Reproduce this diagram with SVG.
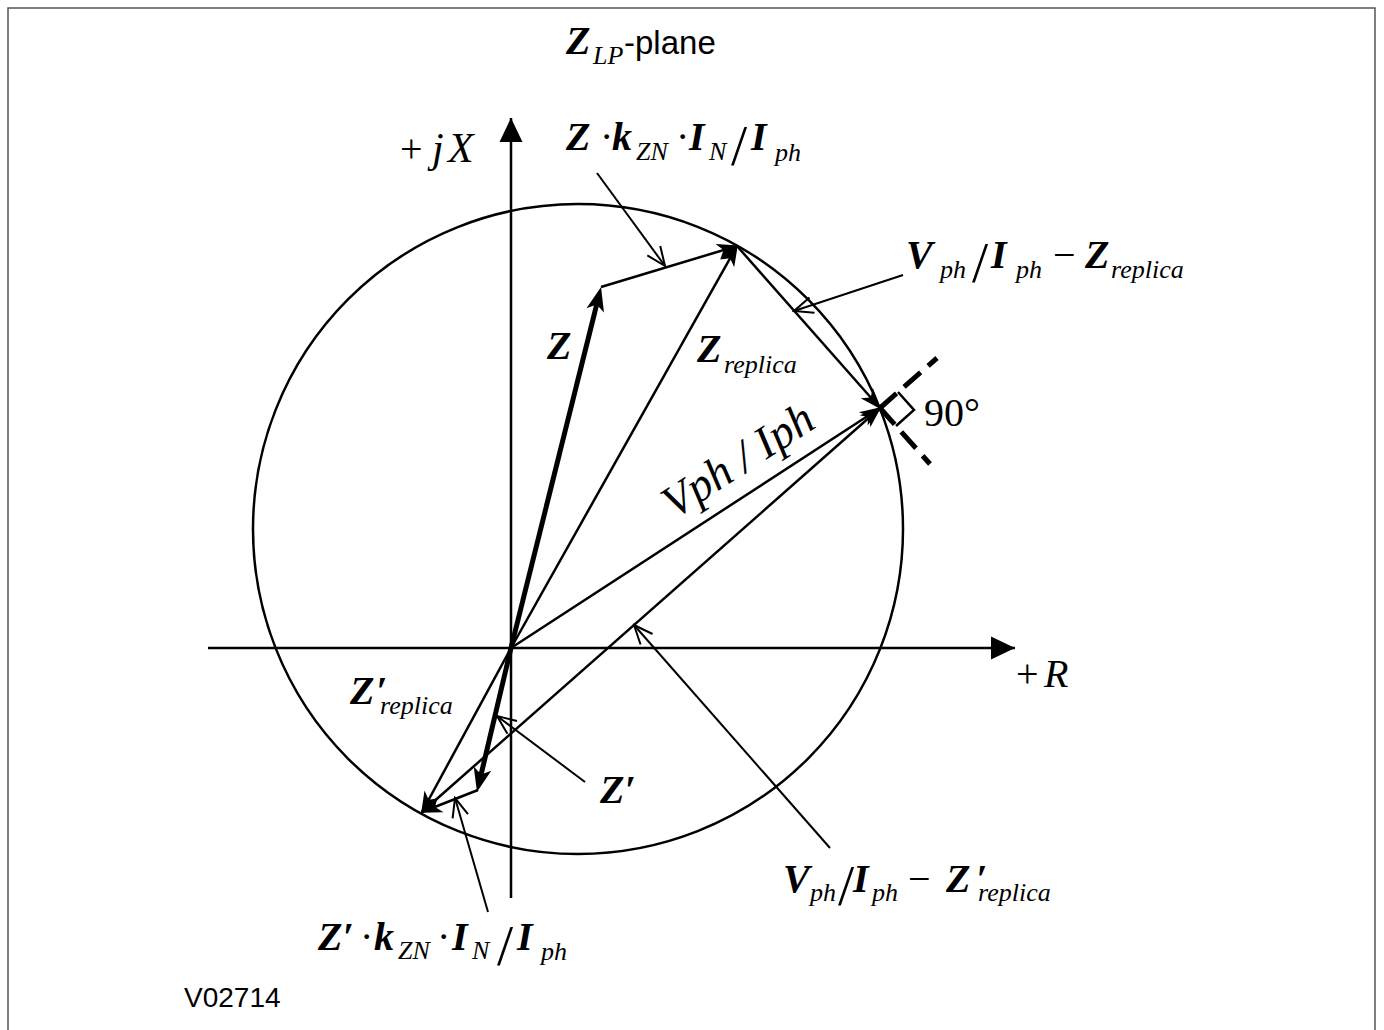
<svg xmlns="http://www.w3.org/2000/svg" width="1384" height="1030" viewBox="0 0 1384 1030">
<style>
.ln{stroke:#000;stroke-width:2.5;fill:none}
.thk{stroke:#000;stroke-width:5;fill:none}
.ptr{stroke:#000;stroke-width:2;fill:none}
.dash{stroke:#000;stroke-width:5;fill:none;stroke-dasharray:22 10}
text{font-family:"Liberation Serif","Times New Roman",serif;fill:#000}
.rm{font-size:40px}
.bi{font-weight:bold;font-style:italic;font-size:40px}
.it{font-style:italic;font-size:26px;font-weight:normal}
.sl{font-size:58px;font-style:normal;font-weight:normal}
.sans{font-family:"Liberation Sans",Arial,sans-serif}
</style>
<defs>
<marker id="ah" markerUnits="userSpaceOnUse" viewBox="-24 -10 28 20" markerWidth="28" markerHeight="20" refX="0" refY="0" orient="auto">
<path d="M2,0 L-20,-8 L-14,0 L-20,8 Z" fill="#000"/>
</marker>
<marker id="ahT" markerUnits="userSpaceOnUse" viewBox="-26 -12 36 24" markerWidth="36" markerHeight="24" refX="0" refY="0" orient="auto">
<path d="M8,0 L-16,-9 L-10,0 L-16,9 Z" fill="#000"/>
</marker>
<marker id="ax" markerUnits="userSpaceOnUse" viewBox="-26 -13 28 26" markerWidth="28" markerHeight="26" refX="0" refY="0" orient="auto">
<path d="M0,0 L-24,-11.5 L-24,11.5 Z" fill="#000"/>
</marker>
<marker id="op" markerUnits="userSpaceOnUse" viewBox="-22 -10 24 20" markerWidth="24" markerHeight="20" refX="0" refY="0" orient="auto">
<path d="M-19,-8 L0,0 L-19,8" fill="none" stroke="#000" stroke-width="2"/>
</marker>
</defs>
<rect x="8" y="8" width="1367" height="1040" fill="#fff" stroke="#555" stroke-width="1.5"/>

<g id="axes">
<line class="ln" x1="208" y1="648" x2="1015" y2="648" marker-end="url(#ax)"/>
<line class="ln" x1="511" y1="898" x2="511" y2="118" marker-end="url(#ax)"/>
</g>
<g id="circle"><circle class="ln" cx="578" cy="529" r="325"/></g>

<g id="connectors">
<line class="thk" x1="511" y1="648" x2="599.1" y2="294.8" marker-end="url(#ahT)"/>
<line class="ln" x1="601" y1="287" x2="737" y2="246" marker-end="url(#ah)"/>
<line class="ln" x1="511" y1="648" x2="737" y2="246" marker-end="url(#ah)"/>
<line class="ln" x1="737" y1="246" x2="880" y2="408" marker-end="url(#ah)"/>
<line class="ln" x1="511" y1="648" x2="880" y2="408" marker-end="url(#ah)"/>
<line class="ln" x1="422" y1="812" x2="880" y2="408" marker-end="url(#ah)"/>
<line class="thk" x1="511" y1="648" x2="478.8" y2="784.2" marker-end="url(#ahT)"/>
<line class="ln" x1="478" y1="790" x2="422" y2="812" marker-end="url(#ah)"/>
<line class="ln" x1="511" y1="648" x2="422" y2="812" marker-end="url(#ah)"/>
<line class="dash" x1="880" y1="408" x2="937" y2="358"/>
<line class="dash" x1="880" y1="408" x2="930" y2="464"/>
<polyline class="ln" points="898,392 914,410 896,426"/>
<line class="ptr" x1="597" y1="173" x2="665" y2="266" marker-end="url(#op)"/>
<line class="ptr" x1="903" y1="275" x2="794" y2="311" marker-end="url(#op)"/>
<line class="ptr" x1="585" y1="782" x2="497" y2="716" marker-end="url(#op)"/>
<line class="ptr" x1="830" y1="848" x2="634" y2="625" marker-end="url(#op)"/>
<line class="ptr" x1="488" y1="912" x2="455" y2="798" marker-end="url(#op)"/>
</g>

<g id="title"><text><tspan class="bi" font-size="38" x="566" y="54">Z</tspan><tspan class="it" font-size="24" x="593" y="64">LP</tspan><tspan class="sans" font-size="33" x="624" y="54">-plane</tspan></text></g>

<g id="label-jx"><text class="rm"><tspan x="400" y="162">+</tspan><tspan font-style="italic" font-size="42" x="432" y="162">j</tspan><tspan font-style="italic" font-size="42" x="448" y="162">X</tspan></text></g>
<g id="label-r"><text class="rm" font-size="38"><tspan x="1016" y="687">+</tspan><tspan font-style="italic" x="1044" y="687">R</tspan></text></g>

<g id="label-zk"><text class="rm"><tspan class="bi" x="566" y="150">Z</tspan><tspan x="600" y="150">·</tspan><tspan class="bi" x="612" y="150">k</tspan><tspan class="it" x="636" y="160">ZN</tspan><tspan x="676" y="150">·</tspan><tspan class="bi" x="689" y="150">I</tspan><tspan class="it" x="709" y="160">N</tspan><tspan class="sl" x="731" y="165">/</tspan><tspan class="bi" x="751" y="150">I</tspan><tspan class="it" x="775" y="161">ph</tspan></text></g>

<g id="label-vz"><text class="rm"><tspan class="bi" x="906" y="268">V</tspan><tspan class="it" x="940" y="278">ph</tspan><tspan class="sl" x="972" y="282">/</tspan><tspan class="bi" x="991" y="268">I</tspan><tspan class="it" x="1016" y="278">ph</tspan><tspan x="1053" y="268">−</tspan><tspan class="bi" x="1085" y="268">Z</tspan><tspan class="it" x="1111" y="278">replica</tspan></text></g>

<g id="label-z"><text class="bi" x="547" y="359">Z</text></g>
<g id="label-zrep"><text class="rm"><tspan class="bi" x="697" y="362">Z</tspan><tspan class="it" x="724" y="373">replica</tspan></text></g>
<g id="label-90"><text class="rm" font-size="34" x="924" y="426">90°</text></g>
<g id="label-vi"><text font-style="italic" font-size="46" x="746" y="473" text-anchor="middle" transform="rotate(-33 746 473)">Vph / Iph</text></g>

<g id="label-zrep2"><text class="rm"><tspan class="bi" x="350" y="704">Z</tspan><tspan class="bi" x="376" y="704">′</tspan><tspan class="it" x="380" y="714">replica</tspan></text></g>
<g id="label-zp"><text class="bi" x="600" y="803">Z′</text></g>

<g id="label-zk2"><text class="rm"><tspan class="bi" x="318" y="950">Z′</tspan><tspan x="360" y="950">·</tspan><tspan class="bi" x="374" y="950">k</tspan><tspan class="it" x="398" y="959">ZN</tspan><tspan x="437" y="950">·</tspan><tspan class="bi" x="452" y="950">I</tspan><tspan class="it" x="472" y="959">N</tspan><tspan class="sl" x="497" y="965">/</tspan><tspan class="bi" x="517" y="950">I</tspan><tspan class="it" x="541" y="960">ph</tspan></text></g>

<g id="label-vz2"><text class="rm"><tspan class="bi" x="783" y="892">V</tspan><tspan class="it" x="810" y="901">ph</tspan><tspan class="sl" x="838" y="905">/</tspan><tspan class="bi" x="853" y="892">I</tspan><tspan class="it" x="872" y="901">ph</tspan><tspan x="908" y="892">−</tspan><tspan class="bi" x="946" y="892">Z</tspan><tspan class="bi" x="976" y="892">′</tspan><tspan class="it" font-size="25" x="978" y="901">replica</tspan></text></g>

<g id="label-id"><text class="sans" font-size="28" x="184" y="1007">V02714</text></g>
</svg>
